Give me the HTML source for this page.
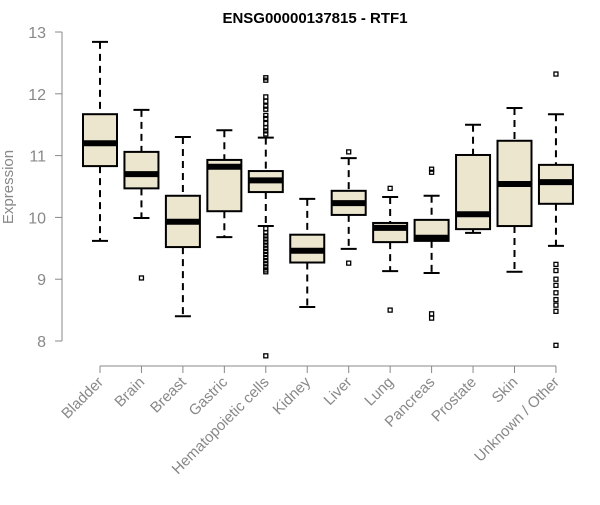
<!DOCTYPE html>
<html><head><meta charset="utf-8"><style>
body{margin:0;background:#fff;font-family:"Liberation Sans",sans-serif}
</style></head><body>
<svg id="chart" width="600" height="500" xmlns="http://www.w3.org/2000/svg"></svg>
<script>
const categories=["Bladder","Brain","Breast","Gastric","Hematopoietic cells","Kidney","Liver","Lung","Pancreas","Prostate","Skin","Unknown / Other"];
const whiskerLow=[9.62,9.99,8.40,9.68,9.86,8.55,9.49,9.13,9.10,9.75,9.12,9.54];
const q1=[10.83,10.47,9.52,10.10,10.41,9.27,10.04,9.60,9.62,9.81,9.86,10.22];
const medians=[11.2,10.70,9.93,10.82,10.60,9.46,10.23,9.83,9.67,10.05,10.54,10.57];
const q3=[11.67,11.06,10.35,10.93,10.75,9.72,10.43,9.91,9.96,11.01,11.24,10.85];
const whiskerHigh=[12.84,11.74,11.30,11.41,11.29,10.30,10.96,10.33,10.35,11.50,11.77,11.67];
const outliers=[[],[9.02],[],[],[12.26,12.22,11.95,11.88,11.8,11.75,11.65,11.6,11.52,11.45,11.4,11.35,9.82,9.75,9.7,9.65,9.6,9.55,9.5,9.45,9.4,9.35,9.3,9.25,9.2,9.15,9.12,7.76],[],[11.06,9.26],[10.47,8.50],[10.78,10.73,8.44,8.37],[],[],[12.32,9.24,9.14,9.0,8.9,8.78,8.67,8.58,8.48,7.93]];
const yTicks=[8,9,10,11,12,13];
const NS="http://www.w3.org/2000/svg";
const svg=document.getElementById("chart");
const y=v=>32+(13-v)*61.8;
const x=i=>100+i*41.45;
function mk(t,a,p){const e=document.createElementNS(NS,t);for(const k in a)e.setAttribute(k,a[k]);(p||svg).appendChild(e);return e;}
let t=mk("text",{x:315,y:23,"text-anchor":"middle","font-size":15,"font-weight":"bold"});t.textContent="ENSG00000137815 - RTF1";


let ya=mk("line",{x1:62,x2:62,y1:y(13),y2:y(8),stroke:"#888"});


yTicks.forEach(v=>{mk("line",{x1:55,x2:62,y1:y(v),y2:y(v),stroke:"#888"});
 const tl=mk("text",{x:46,y:y(v)+6,"text-anchor":"end","font-size":16,fill:"#888"});tl.textContent=v;
 
 });
let yt=mk("text",{transform:"translate(13,187) rotate(-90)","text-anchor":"middle","font-size":15,fill:"#888"});yt.textContent="Expression";


let xa=mk("line",{x1:x(0),x2:x(11),y1:366,y2:366,stroke:"#888"});


categories.forEach((c,i)=>{
 const cx=x(i),w=17;
 mk("line",{x1:cx,x2:cx,y1:366,y2:373,stroke:"#888"});
 const lb=mk("text",{transform:`translate(${cx+4},${383}) rotate(-45)`,"text-anchor":"end","font-size":15,fill:"#888"});lb.textContent=c;
 
 
 const g=mk("g",{});
 
 
 mk("line",{x1:cx,x2:cx,y1:y(whiskerHigh[i]),y2:y(q3[i]),stroke:"#000","stroke-width":2,"stroke-dasharray":"7,5"},g);
 mk("line",{x1:cx,x2:cx,y1:y(q1[i]),y2:y(whiskerLow[i]),stroke:"#000","stroke-width":2,"stroke-dasharray":"7,5"},g);
 mk("line",{x1:cx-8,x2:cx+8,y1:y(whiskerHigh[i]),y2:y(whiskerHigh[i]),stroke:"#000","stroke-width":2},g);
 mk("line",{x1:cx-8,x2:cx+8,y1:y(whiskerLow[i]),y2:y(whiskerLow[i]),stroke:"#000","stroke-width":2},g);
 mk("rect",{x:cx-w,y:y(q3[i]),width:2*w,height:y(q1[i])-y(q3[i]),fill:"#ede6cf",stroke:"#000","stroke-width":2},g);
 mk("line",{x1:cx-w,x2:cx+w,y1:y(medians[i]),y2:y(medians[i]),stroke:"#000","stroke-width":6},g);
 outliers[i].forEach(o=>{const p=mk("rect",{x:cx-2,y:y(o)-2,width:4,height:4,fill:"none",stroke:"#000","stroke-width":1.3},g);
  
  });
});
</script>
</body></html>
